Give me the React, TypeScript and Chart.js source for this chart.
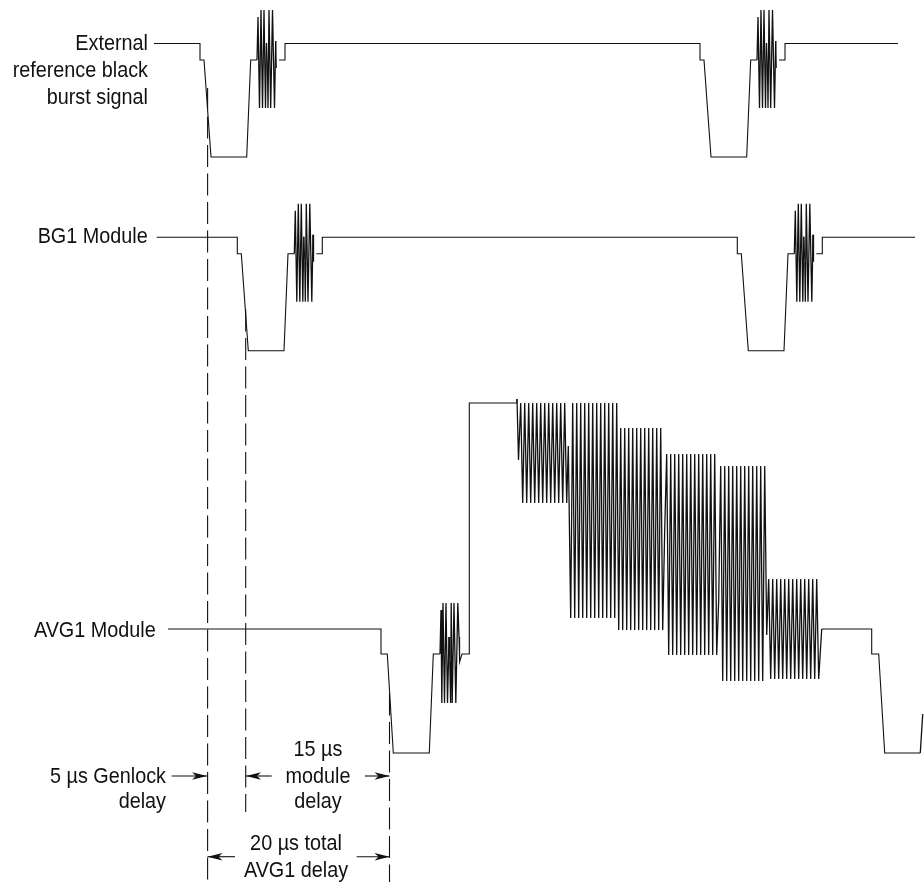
import React, { useEffect, useRef } from "react";
import { Chart, registerables } from "chart.js";

Chart.register(...registerables);

// Shape of one sync pulse + colour burst (first pulse of the top trace)
const pulseX = [200, 200, 204, 211, 246.7, 250.7, 257, 258, 259.5, 261, 262.5, 264, 265.5, 266.5, 267.5, 268, 269, 270.7, 272.5, 274.5, 275.7, 276.3, 276.3, 279, 285, 285];
const pulseY: (number | null)[] = [43.5, 60, 60, 157, 157, 60, 60, 17, 108, 10, 108, 10, 108, 43, 68, 108, 10, 108, 10, 108, 41, 68, null, 60, 60, 43.5];

// Lead-in/lead-out of each trace and the pulse positions
const topLeadIn = 154;
const topEnd = 898;
const bg1LeadIn = 156.7;
const bg1End = 915;
const topPulseShiftX = [0, 500];
const bg1PulseShiftX = [37.3, 537.3];
const bg1ShiftY = 193.8;

// AVG1 trace
const avgLeadX = [168, 381, 381, 387.3, 393.3, 429.3, 433.3, 440];
const avgLeadY = [629, 629, 654, 654, 753, 753, 654, 654];
const avgBurstX = [441, 441.8, 443, 444.5, 446, 447.5, 449, 449.8, 450.6, 451.2, 452.2, 454, 455.8, 457.8, 459, 459.6, 462, 469.3, 469.3, 516.7];
const avgBurstY = [610, 703, 603, 703, 603, 703, 637, 662, 703, 603, 703, 603, 703, 603, 637, 662, 654, 654, 403, 403];

const packet1X = [517, 518.5, 520.7, 522.7, 524.7, 526.7, 528.7, 530.7, 532.7, 534.7, 536.7, 538.7, 540.7, 542.7, 544.7, 546.7, 548.7, 550.7, 552.7, 554.7, 556.7, 558.7, 560.7, 562.7, 564.7, 566.7, 568.3];
const packet1Y = [399, 460, 403, 503, 403, 503, 403, 503, 403, 503, 403, 503, 403, 503, 403, 503, 403, 503, 403, 503, 403, 503, 403, 503, 403, 503, 446];
const packet2X = [570.7, 572.7, 574.7, 576.7, 578.7, 580.7, 582.7, 584.7, 586.7, 588.7, 590.7, 592.7, 594.7, 596.7, 598.7, 600.7, 602.7, 604.7, 606.7, 608.7, 610.7, 612.7, 614.7, 616.7];
const packet2Y = [618, 403, 618, 403, 618, 403, 618, 403, 618, 403, 618, 403, 618, 403, 618, 403, 618, 403, 618, 403, 618, 403, 618, 403];
const packet3X = [618.7, 620.7, 622.7, 624.7, 626.7, 628.7, 630.7, 632.7, 634.7, 636.7, 638.7, 640.7, 642.7, 644.7, 646.7, 648.7, 650.7, 652.7, 654.7, 656.7, 658.7, 660.7, 662.7, 664.7];
const packet3Y = [630, 428, 630, 428, 630, 428, 630, 428, 630, 428, 630, 428, 630, 428, 630, 428, 630, 428, 630, 428, 630, 428, 630, 530];
const packet4X = [666.7, 668.7, 670.7, 672.7, 674.7, 676.7, 678.7, 680.7, 682.7, 684.7, 686.7, 688.7, 690.7, 692.7, 694.7, 696.7, 698.7, 700.7, 702.7, 704.7, 706.7, 708.7, 710.7, 712.7, 714.7, 716.7, 718.7];
const packet4Y = [454, 655, 454, 655, 454, 655, 454, 655, 454, 655, 454, 655, 454, 655, 454, 655, 454, 655, 454, 655, 454, 655, 454, 655, 454, 655, 600];
const packet5X = [720.7, 722.7, 724.7, 726.7, 728.7, 730.7, 732.7, 734.7, 736.7, 738.7, 740.7, 742.7, 744.7, 746.7, 748.7, 750.7, 752.7, 754.7, 756.7, 758.7, 760.7, 762.7, 764.7, 766.7];
const packet5Y = [466, 681, 466, 681, 466, 681, 466, 681, 466, 681, 466, 681, 466, 681, 466, 681, 466, 681, 466, 681, 466, 681, 466, 635];
const packet6X = [768.7, 770.7, 772.7, 774.7, 776.7, 778.7, 780.7, 782.7, 784.7, 786.7, 788.7, 790.7, 792.7, 794.7, 796.7, 798.7, 800.7, 802.7, 804.7, 806.7, 808.7, 810.7, 812.7, 814.7, 816.7, 818.7];
const packet6Y = [579, 679, 579, 679, 579, 679, 579, 679, 579, 679, 579, 679, 579, 679, 579, 679, 579, 679, 579, 679, 579, 679, 579, 679, 579, 679];
const avgTailX = [821.7, 871.7, 871.7, 878.7, 884.7, 920.3, 922.7];
const avgTailY = [629, 629, 654, 654, 753, 753, 714];

// Delay markers: [x, y start, y end]
const dashedX = [207.6, 245.7, 389.5];
const dashedStartY = [88, 309.5, 693.5];
const dashedEndY = [882, 812, 882];

// Arrows: tail and tip on a shared y
const arrowTailX = [171.7, 271.7, 365, 235, 356.7];
const arrowTipX = [207, 246, 389.5, 207.5, 389.5];
const arrowY = [776, 776, 776, 856.7, 856.7];

const labelTexts = [
  "External", "reference black", "burst signal", "BG1 Module", "AVG1 Module",
  "5 µs Genlock", "delay", "15 µs", "module", "delay", "20 µs total", "AVG1 delay",
];
const labelX = [148, 148, 148, 147.7, 155.7, 166, 166, 318, 318, 318, 296, 296];
const labelY = [49.5, 77, 104, 243, 637, 783, 808, 756, 783, 808, 850, 877];
const labelAlign = ["right", "right", "right", "right", "right", "right", "right", "center", "center", "center", "center", "center"];

type P = { x: number; y: number | null };

const zip = (xs: number[], ys: (number | null)[]): P[] => xs.map((x, i) => ({ x, y: ys[i] }));

const pulseTrace = (leadIn: number, end: number, shiftsX: number[], shiftY: number): P[] => {
  const pts: P[] = [{ x: leadIn, y: pulseY[0]! + shiftY }];
  shiftsX.forEach((dx) => {
    pulseX.forEach((x, i) => {
      const y = pulseY[i];
      pts.push({ x: x + dx, y: y === null ? null : y + shiftY });
    });
  });
  pts.push({ x: end, y: pulseY[0]! + shiftY });
  return pts;
};

const avgTrace: P[] = [
  ...zip(avgLeadX, avgLeadY),
  ...zip(avgBurstX, avgBurstY),
  ...zip(packet1X, packet1Y),
  ...zip(packet2X, packet2Y),
  ...zip(packet3X, packet3Y),
  ...zip(packet4X, packet4Y),
  ...zip(packet5X, packet5Y),
  ...zip(packet6X, packet6Y),
  ...zip(avgTailX, avgTailY),
];

const INK = "#111111";
const FONT = '22px "Liberation Sans", Arial, sans-serif';
const TEXT_SQUEEZE = 0.9;

const annotationPlugin = {
  id: "diagramAnnotations",
  afterDatasetsDraw(chart: any) {
    const { ctx, scales } = chart;
    const sx = scales.x;
    const sy = scales.y;
    ctx.save();
    ctx.fillStyle = INK;
    arrowTipX.forEach((tip, i) => {
      const dir = tip > arrowTailX[i] ? -1 : 1;
      const px = sx.getPixelForValue(tip);
      const py = sy.getPixelForValue(arrowY[i]);
      ctx.beginPath();
      ctx.moveTo(px, py);
      ctx.lineTo(px + dir * 15, py - 3.8);
      ctx.lineTo(px + dir * 11, py);
      ctx.lineTo(px + dir * 15, py + 3.8);
      ctx.closePath();
      ctx.fill();
    });
    ctx.font = FONT;
    ctx.textBaseline = "alphabetic";
    labelTexts.forEach((t, i) => {
      ctx.save();
      ctx.translate(sx.getPixelForValue(labelX[i]), sy.getPixelForValue(labelY[i]));
      ctx.scale(TEXT_SQUEEZE, 1);
      ctx.textAlign = labelAlign[i];
      ctx.fillText(t, 0, 0);
      ctx.restore();
    });
    ctx.restore();
  },
};

// Fast, steep strokes of the bursts read heavier than the slow parts of the trace.
const strokeWidth = (ctx: any) => {
  const dx = Math.abs(ctx.p1.parsed.x - ctx.p0.parsed.x);
  const dy = Math.abs(ctx.p1.parsed.y - ctx.p0.parsed.y);
  return dx > 0 && dx < 4 && dy > 30 ? 1.3 : 1.1;
};

const line = (data: P[], extra: object = {}) => ({
  data,
  borderColor: INK,
  borderWidth: 1.1,
  pointRadius: 0,
  showLine: true,
  tension: 0,
  spanGaps: false,
  fill: false,
  ...extra,
});

export default function App() {
  const ref = useRef<HTMLCanvasElement | null>(null);

  useEffect(() => {
    if (!ref.current) return;
    const segment = { borderWidth: strokeWidth };
    const datasets: any[] = [
      line(pulseTrace(topLeadIn, topEnd, topPulseShiftX, 0), { segment }),
      line(pulseTrace(bg1LeadIn, bg1End, bg1PulseShiftX, bg1ShiftY), { segment }),
      line(avgTrace, { segment }),
      ...dashedX.map((x, i) =>
        line([{ x, y: dashedStartY[i] }, { x, y: dashedEndY[i] }], { borderDash: [22, 6.5], borderCapStyle: "butt" })
      ),
      ...arrowTipX.map((tip, i) =>
        line([{ x: arrowTailX[i], y: arrowY[i] }, { x: tip, y: arrowY[i] }])
      ),
    ];
    const chart = new Chart(ref.current, {
      type: "scatter",
      data: { datasets },
      plugins: [annotationPlugin],
      options: {
        responsive: false,
        animation: false,
        devicePixelRatio: 1,
        layout: { padding: 0 },
        plugins: { legend: { display: false }, tooltip: { enabled: false }, title: { display: false } },
        scales: {
          x: { type: "linear", min: 0, max: 924, display: false },
          y: { type: "linear", min: 0, max: 882, reverse: true, display: false },
        },
      },
    } as any);
    return () => chart.destroy();
  }, []);

  return (
    <canvas
      ref={ref}
      width={924}
      height={882}
      style={{ position: "absolute", left: 0, top: 0, width: 924, height: 882, background: "#fff" }}
    />
  );
}
